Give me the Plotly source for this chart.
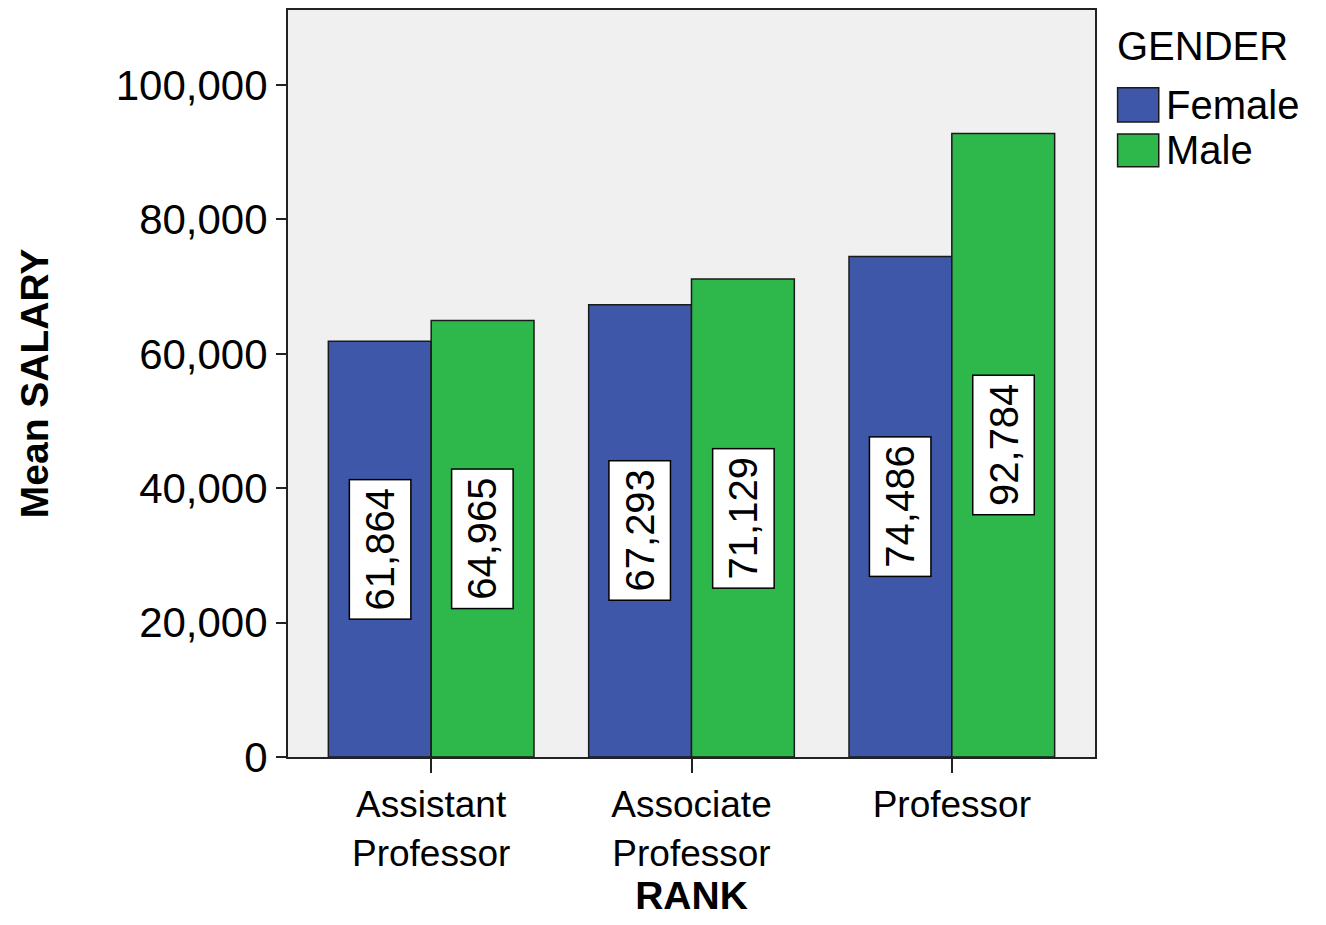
import plotly.graph_objects as go

ranks = ["Assistant<br>Professor", "Associate<br>Professor", "Professor"]
genders = ["Female", "Male"]
female_salary = [61864, 67293, 74486]
male_salary = [64965, 71129, 92784]
colors = ["#3e57a9", "#2eb84b"]

FONT = "Liberation Sans, Arial, sans-serif"
bargap = 0.21

fig = go.Figure()
for name, vals, col in zip(genders, [female_salary, male_salary], colors):
    fig.add_trace(go.Bar(
        x=ranks, y=vals, name=name,
        marker=dict(color=col, line=dict(color="#1a1a1a", width=1.5)),
        showlegend=False,
        hoverinfo="x+y+name",
    ))

# value labels in white boxes, centred at half bar height
bar_w = (1 - bargap) / 2
for g, vals in enumerate([female_salary, male_salary]):
    off = (g - 0.5) * bar_w
    for i, v in enumerate(vals):
        fig.add_annotation(
            x=i + off, y=v / 2, xref="x", yref="y",
            text=f"{v:,}", textangle=-90, showarrow=False,
            font=dict(family=FONT, size=40, color="black"),
            bgcolor="white", bordercolor="black", borderwidth=1.5, borderpad=8,
        )

# legend drawn by hand so the swatches are large
fig.add_annotation(
    x=1.025, y=0.952, xref="paper", yref="paper", xanchor="left", yanchor="middle",
    text="GENDER", showarrow=False, font=dict(family=FONT, size=40, color="black"),
)
sw_y = [(0.850, 0.896), (0.790, 0.834)]
for (y0, y1), name, col in zip(sw_y, genders, colors):
    fig.add_shape(type="rect", xref="paper", yref="paper",
                  x0=1.028, x1=1.079, y0=y0, y1=y1,
                  fillcolor=col, line=dict(color="#1a1a1a", width=1.5))
    fig.add_annotation(
        x=1.085, y=(y0 + y1) / 2, xref="paper", yref="paper",
        xanchor="left", yanchor="middle", text=name, showarrow=False,
        font=dict(family=FONT, size=40, color="black"),
    )

fig.update_layout(
    barmode="group", bargap=bargap, bargroupgap=0,
    width=1310, height=909,
    margin=dict(l=280, r=223, t=2, b=160, autoexpand=False),
    plot_bgcolor="#f0f0f0", paper_bgcolor="white",
    font=dict(family=FONT, size=40, color="black"),
)
fig.update_xaxes(
    type="category", range=[-0.55, 2.55],
    showline=True, linecolor="#222", linewidth=2, mirror=True,
    ticks="outside", ticklen=14, tickwidth=2, tickcolor="#222",
    showgrid=False, tickfont=dict(size=37),
    title=dict(text="<b>RANK</b>", font=dict(size=39), standoff=17),
)
fig.update_yaxes(
    range=[0, 111160], tickvals=[0, 20000, 40000, 60000, 80000, 100000],
    tickformat=",", showline=True, linecolor="#222", linewidth=2, mirror=True,
    ticks="outside", ticklen=10, tickwidth=2, tickcolor="#222",
    showgrid=False, zeroline=False, tickfont=dict(size=42),
    title=dict(text="<b>Mean SALARY</b>", font=dict(size=39), standoff=55),
)

fig.write_html("out.html")
